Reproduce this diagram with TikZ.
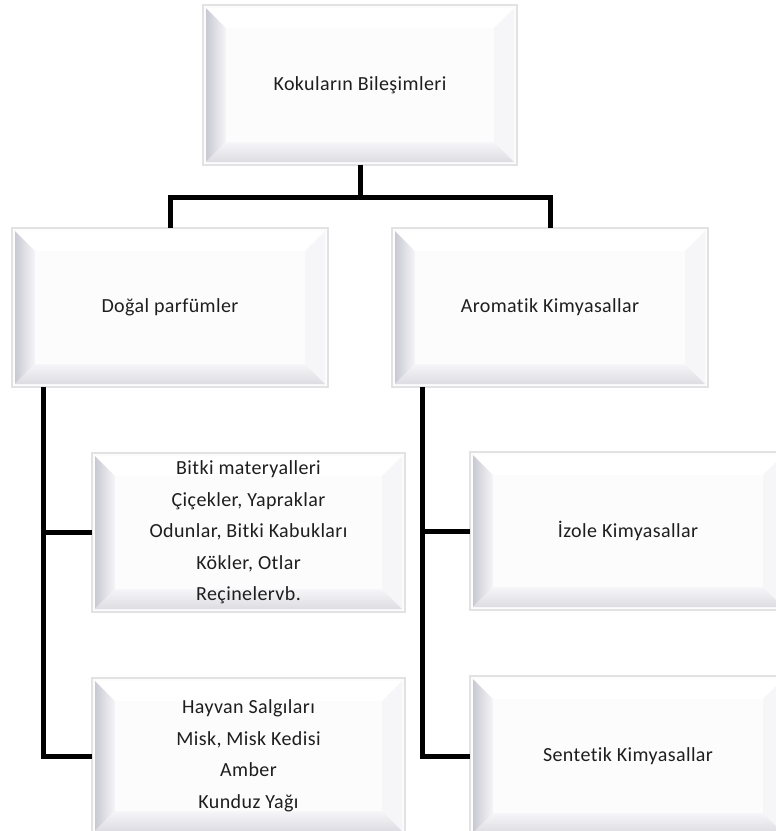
\documentclass[tikz,border=0pt]{standalone}
\usepackage{fontspec}
\setmainfont{Carlito}[Ligatures=NoCommon, LetterSpace=2.0]
\definecolor{rimc}{HTML}{E2E2E4}
\definecolor{bevdark}{HTML}{C9C9D2}
\definecolor{bevmid}{HTML}{DCDCE2}
\definecolor{bevlight}{HTML}{F6F6F9}
\definecolor{facec}{HTML}{FCFCFD}
\definecolor{txtc}{HTML}{1E1E1E}
\newcommand\bw{20}
\newcommand\bevbox[6]{%
  \draw[rim] (#2,#3) rectangle (#4,#5);
  \path[bevT] (#2+3,#3+3) -- (#2+3+\bw,#3+3+\bw) -- (#4-3-\bw,#3+3+\bw) -- (#4-3,#3+3) -- cycle;
  \path[bevR] (#4-3,#3+3) -- (#4-3-\bw,#3+3+\bw) -- (#4-3-\bw,#5-3-\bw) -- (#4-3,#5-3) -- cycle;
  \path[bevL] (#2+3,#3+3) -- (#2+3+\bw,#3+3+\bw) -- (#2+3+\bw,#5-3-\bw) -- (#2+3,#5-3) -- cycle;
  \path[bevB] (#2+3,#5-3) -- (#2+3+\bw,#5-3-\bw) -- (#4-3-\bw,#5-3-\bw) -- (#4-3,#5-3) -- cycle;
  \node[boxtext, minimum width=#4-#2, minimum height=#5-#3] (#1) at ({(#2+#4)/2},{(#3+#5)/2}) {#6};
}
\tikzset{
  rim/.style={draw=rimc, line width=1.5pt, fill=facec},
  bevT/.style={fill=white},
  bevR/.style={fill=bevlight},
  bevL/.style={left color=bevdark, right color=bevlight},
  bevB/.style={bottom color=bevmid, top color=bevlight},
  boxtext/.style={inner sep=0pt, align=center, text=txtc, font=\fontsize{20}{31.5}\selectfont},
  conn/.style={line width=5pt, draw=black, line join=miter, line cap=butt}
}
\begin{document}
\begin{tikzpicture}[x=1pt,y=-1pt]
\useasboundingbox (0,0) rectangle (776,831);
\clip (0,0) rectangle (776,831);
\fill[white] (0,0) rectangle (776,831);
\bevbox{T}{203}{5}{517}{165}{Kokuların Bileşimleri}
\bevbox{D}{12}{228}{328}{387}{Doğal parfümler}
\bevbox{A}{392}{228}{708}{387}{Aromatik Kimyasallar}
\bevbox{B}{92}{453}{405}{612}{Bitki materyalleri\\Çiçekler, Yapraklar\\Odunlar, Bitki Kabukları\\Kökler, Otlar\\Reçinelervb.}
\bevbox{H}{92}{678}{405}{834}{Hayvan Salgıları\\Misk, Misk Kedisi\\Amber\\Kunduz Yağı}
\bevbox{I}{470}{452}{786}{610}{İzole Kimyasallar}
\bevbox{S}{470}{676}{786}{836}{Sentetik Kimyasallar}
\coordinate (j) at ([yshift=-32pt]T.south);
\coordinate (dl) at ([xshift=32pt]D.south west);
\coordinate (al) at ([xshift=31pt]A.south west);
\draw[conn] (T.south) -- (j);
\draw[conn] (D.north) |- (j) -| (A.north);
\draw[conn] (dl) |- (B.west);
\draw[conn] (dl) |- (H.west);
\draw[conn] (al) |- (I.west);
\draw[conn] (al) |- (S.west);
\end{tikzpicture}
\end{document}
